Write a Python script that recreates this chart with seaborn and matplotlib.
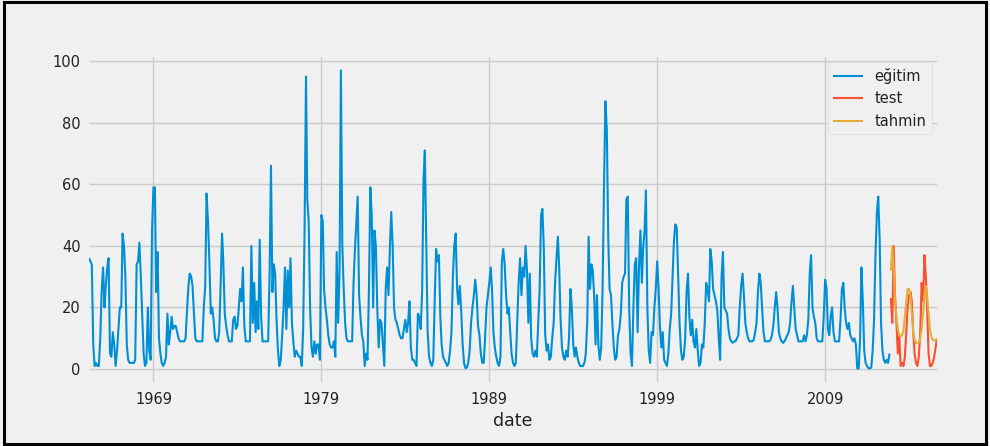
import numpy as np
import pandas as pd
import matplotlib
matplotlib.use("Agg")
import matplotlib.pyplot as plt
import matplotlib.dates as mdates
from matplotlib.patches import Rectangle
import seaborn as sns

# ---------------- data ----------------
train_start = "1965-03-01"
test_start = "2012-12-01"

train_values = [
    36, 35, 34, 8, 1, 2, 1, 1, 10, 25, 33, 20,
    27, 33, 36, 5, 4, 12, 8, 1, 6, 13, 20, 20,
    44, 40, 30, 8, 3, 2, 2, 2, 2, 3, 34, 35,
    41, 30, 18, 5, 1, 2, 20, 6, 3, 45, 59, 59,
    25, 38, 10, 5, 2, 1, 2, 4, 18, 8, 12, 17,
    13, 14, 14, 12, 10, 9, 9, 9, 9, 10, 19, 27,
    31, 30, 27, 18, 10, 9, 9, 9, 9, 9, 20, 27,
    57, 48, 35, 18, 20, 16, 10, 9, 9, 12, 27, 44,
    35, 18, 14, 11, 9, 9, 9, 16, 17, 13, 14, 20,
    26, 22, 33, 14, 9, 9, 9, 9, 40, 15, 28, 12,
    22, 13, 42, 17, 9, 9, 9, 9, 9, 30, 66, 25,
    34, 31, 16, 6, 1, 3, 11, 20, 33, 13, 32, 20,
    36, 15, 9, 4, 6, 5, 4, 4, 1, 13, 45, 95,
    55, 48, 20, 7, 4, 9, 5, 8, 8, 3, 50, 48,
    26, 20, 16, 11, 8, 7, 7, 9, 4, 38, 15, 32,
    97, 40, 26, 15, 10, 9, 9, 9, 9, 28, 39, 48,
    56, 24, 17, 11, 9, 1, 5, 3, 26, 59, 50, 20,
    45, 40, 20, 7, 16, 15, 8, 1, 26, 33, 24, 40,
    51, 40, 20, 16, 15, 13, 11, 10, 10, 13, 16, 12,
    15, 22, 7, 3, 3, 2, 1, 18, 17, 13, 25, 62,
    71, 40, 12, 4, 2, 1, 3, 22, 39, 35, 37, 17,
    8, 4, 3, 2, 1, 2, 6, 12, 30, 40, 44, 26,
    21, 27, 19, 8, 2, 0.3, 0.5, 2, 6, 15, 20, 24,
    29, 24, 14, 11, 5, 2, 2, 10, 20, 24, 28, 33,
    26, 12, 7, 4, 2, 1, 4, 35, 39, 34, 24, 18,
    20, 12, 5, 2, 1, 2, 15, 28, 36, 24, 33, 30,
    40, 32, 15, 31, 10, 5, 4, 6, 4, 15, 26, 50,
    52, 39, 11, 6, 8, 3, 4, 10, 15, 28, 36, 43,
    33, 16, 7, 4, 3, 6, 4, 10, 26, 20, 8, 4,
    7, 4, 2, 1, 1, 1, 2, 5, 15, 43, 26, 34,
    32, 24, 8, 24, 8, 3, 7, 26, 59, 87, 78, 43,
    26, 24, 15, 7, 3, 4, 11, 13, 18, 28, 30, 31,
    55, 56, 20, 5, 1, 20, 34, 36, 12, 33, 45, 28,
    39, 45, 58, 20, 6, 2, 12, 11, 20, 26, 35, 26,
    14, 7, 12, 3, 2, 1, 5, 13, 18, 30, 42, 47,
    46, 30, 15, 6, 3, 4, 10, 25, 31, 17, 11, 16,
    9, 7, 13, 6, 1, 2, 8, 7, 15, 28, 26, 22,
    39, 35, 26, 24, 22, 19, 10, 3, 30, 38, 20, 19,
    18, 13, 10, 9, 8.5, 9, 9, 10, 11, 20, 27, 31,
    24, 15, 12, 10, 9, 9, 9, 9.5, 12, 15, 25, 31,
    28, 20, 12, 9, 9, 9, 9, 9.5, 11, 14, 20, 25,
    20, 12, 10, 9, 8.5, 9, 10, 11, 12, 15, 22, 27,
    20, 13, 11, 9, 9, 9, 9, 11, 9, 11, 16, 31,
    37, 20, 17, 15, 10, 9, 9, 9, 9, 17, 29, 26,
    13, 11, 17, 20, 12, 9, 9, 9, 9, 16, 26, 28,
    20, 15, 13, 15, 11, 10, 9, 10, 8, 0.2, 0.2, 10,
    33, 22, 6, 2, 1, 0.3, 0.2, 0.5, 6, 16, 37, 51,
    56, 42, 15, 6, 3, 2, 3, 2, 5,
]

test_values = [
    23, 15, 40, 24, 15, 5, 11, 1, 2, 1, 4, 12,
    20, 24, 25, 22, 12, 5, 2, 1, 4, 12, 28, 22,
    37, 30, 18, 5, 1, 1, 2, 4, 7, 10,
]

pred_values = [
    32, 40, 33, 22, 17, 13, 11, 10.5, 11, 12.5, 17, 22,
    26, 26, 24, 18, 12, 9.5, 8.5, 8.3, 8.5, 10, 13, 18,
    24, 27, 23, 18, 13, 10.5, 9.5, 9.3, 9.3, 10,
]

series_labels = ["eğitim", "test", "tahmin"]
series_colors = ["#008fd5", "#fc4f30", "#e5ae38"]

tick_years = ["1969", "1979", "1989", "1999", "2009"]
y_ticks = [0, 20, 40, 60, 80, 100]

train_df = pd.DataFrame({
    "date": pd.date_range(train_start, periods=len(train_values), freq="MS"),
    "value": train_values,
})
test_dates = pd.date_range(test_start, periods=len(test_values), freq="MS")
test_df = pd.DataFrame({"date": test_dates, "value": test_values})
pred_df = pd.DataFrame({"date": test_dates, "value": pred_values})

# ---------------- style ----------------
plt.style.use("fivethirtyeight")
plt.rcParams["font.family"] = ["DejaVu Sans"]

fig = plt.figure(figsize=(9.9, 4.46), dpi=100)
fig.patch.set_facecolor("#f0f0f0")
ax = fig.add_axes([0.0899, 0.1435, 0.8566, 0.7285])
ax.set_facecolor("#f0f0f0")

for df, lab, col in zip([train_df, test_df, pred_df], series_labels, series_colors):
    sns.lineplot(data=df, x="date", y="value", ax=ax, label=lab, color=col,
                 linewidth=1.5)

ax.set_xlim(train_df["date"].iloc[0], test_df["date"].iloc[-1])
ax.set_ylim(-4.2, 101.3)
ax.set_yticks(y_ticks)
ax.set_xticks([mdates.date2num(pd.Timestamp(f"{y}-01-01")) for y in tick_years])
ax.set_xticklabels(tick_years)

ax.grid(True, color="#cbcbcb", linewidth=1.0)
ax.set_axisbelow(True)
for s in ax.spines.values():
    s.set_visible(False)
ax.tick_params(axis="both", length=0, labelsize=10.5, colors="#222222")
ax.tick_params(axis="y", pad=6)
ax.tick_params(axis="x", pad=7)
ax.set_xlabel("date", fontsize=12.5, color="#222222", labelpad=4)
ax.set_ylabel("")

leg = ax.legend(loc="upper right", fontsize=10.5, frameon=True,
                facecolor="#f0f0f0", edgecolor="#dcdcdc", framealpha=1.0,
                borderaxespad=0.35, handlelength=2.0)
for t in leg.get_texts():
    t.set_color("#222222")
for h in leg.get_lines():
    h.set_linewidth(1.5)

# black frame around the figure
fig.patches.append(Rectangle((0.004, 0.004), 0.992, 0.992, transform=fig.transFigure,
                             fill=False, edgecolor="black", linewidth=2.2))

fig.savefig("out.png", dpi=100, facecolor="#f0f0f0")
